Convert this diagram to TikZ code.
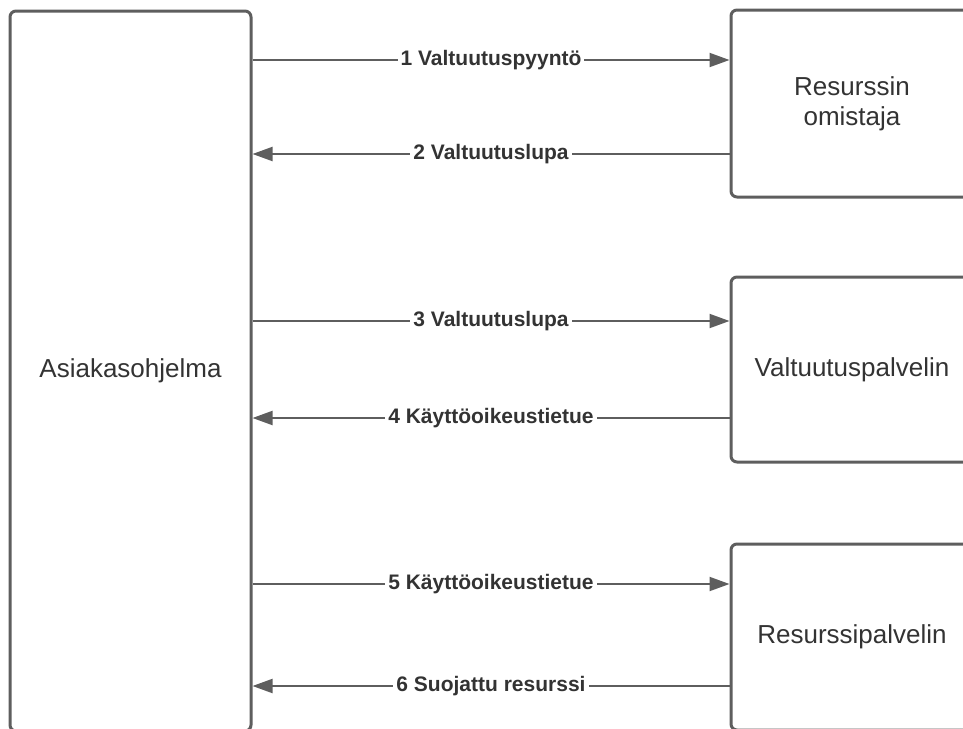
\documentclass[tikz,border=0pt]{standalone}
\usepackage{fontspec}
\setmainfont{Liberation Sans}
\usetikzlibrary{arrows.meta, positioning}
\definecolor{linegray}{HTML}{5E5E5E}
\definecolor{textgray}{HTML}{333333}
\tikzset{
  box/.style={
    rectangle, rounded corners=6pt,
    draw=linegray, fill=white, line width=3pt,
    minimum width=242pt, minimum height=186pt,
    align=center, text=textgray, font=\fontsize{26}{30}\selectfont
  },
  flow/.style={-{Triangle[length=20pt,width=14pt]}, line width=2pt, draw=linegray},
  msg/.style={fill=white, text=textgray, inner xsep=3pt, inner ysep=1pt,
              font=\bfseries\fontsize{21}{24}\selectfont},
}
\begin{document}
\begin{tikzpicture}[x=1pt, y=-1pt]
  \useasboundingbox (0,0) rectangle (963,728);

  \node[box, minimum width=241pt, minimum height=720pt] (client) at (130.5,371)
    {Asiakasohjelma};

  \node[box, minimum height=187pt] (owner) at (852,103.5) {Resurssin\\omistaja};
  \node[box, minimum height=185pt] (authsrv) at (852,369.5) {Valtuutuspalvelin};
  \node[box] (ressrv) at (852,637) {Resurssipalvelin};

  \draw[flow] (client.east |- 0,60) -- node[msg] {1 Valtuutuspyyntö} (owner.west |- 0,60);
  \draw[flow] (owner.west |- 0,154) -- node[msg] {2 Valtuutuslupa} (client.east |- 0,154);
  \draw[flow] (client.east |- 0,321) -- node[msg] {3 Valtuutuslupa} (authsrv.west |- 0,321);
  \draw[flow] (authsrv.west |- 0,418) -- node[msg] {4 Käyttöoikeustietue} (client.east |- 0,418);
  \draw[flow] (client.east |- 0,584) -- node[msg] {5 Käyttöoikeustietue} (ressrv.west |- 0,584);
  \draw[flow] (ressrv.west |- 0,686) -- node[msg] {6 Suojattu resurssi} (client.east |- 0,686);
\end{tikzpicture}
\end{document}
